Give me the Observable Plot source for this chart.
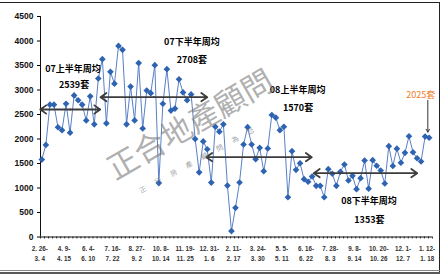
<!DOCTYPE html>
<html><head><meta charset="utf-8">
<script src="https://cdn.jsdelivr.net/npm/d3@7"></script>
<script src="https://cdn.jsdelivr.net/npm/@observablehq/plot@0.6"></script>
<style>
body{margin:0;background:#fff}
#chart{position:relative;width:445px;height:275px;overflow:hidden}
</style>
</head><body><div id="chart"></div>
<script>
// weekly transaction volume (套), 2007-02-26 .. 2009-01-18
const values = [1580,1880,2700,2700,2240,2180,2720,2130,2890,2790,
2700,2380,2870,2300,3235,3630,2320,3370,3130,3900,
3820,2300,3070,2380,3550,2215,2990,2935,3507,1100,
2720,3425,2580,2620,3220,2950,2790,2910,2000,1320,
1950,1790,1110,2250,2150,2300,1050,120,596,1112,
1888,2241,1888,1588,1820,1343,1806,2490,2435,2180,
2250,812,1751,1371,1506,1180,1127,1235,1045,1045,
812,1384,1290,1045,1331,1480,1153,1249,976,1200,
1561,986,1568,1455,1357,1092,1853,1449,1802,1516,
1718,2057,1729,1608,1541,2051,2025];
// tick labels (every 6th week)
const tickIndex = [0,6,12,18,24,30,36,42,48,54,60,66,72,78,84,90,96];
const tickLabels = ["2. 26-\n3. 4","4. 9-\n4. 15","6. 4-\n6. 10","7. 16-\n7. 22","8. 27-\n9. 2",
"10. 8-\n10. 14","11. 19-\n11. 25","12. 31-\n1. 6","2. 11-\n2. 17","3. 24-\n3. 30","5. 5-\n5. 11",
"6. 16-\n6. 22","7. 28-\n8. 3","9. 8-\n9. 14","10. 20-\n10. 26","12. 1-\n12. 7","1. 12-\n1. 18"];
const yTicks = [0,500,1000,1500,2000,2500,3000,3500,4000,4500];
// half-year average annotations
const avgTitles = ["07上半年周均","07下半年周均","08上半年周均","08下半年周均"];
const avgValues = ["2539套","2708套","1570套","1353套"];
const lastLabel = "2025套";
const watermark = "正合地產顧問";
const watermarkSmall = ["正","行","房","產","顧","問","為","您"];

const data = values.map((v,i)=>({i,v}));

// annotation placement (in scale units)
const arrows = [
  {x1:-0.39,x2:14.48,y:2602},
  {x1:14.55,x2:40.99,y:2853},
  {x1:40.75,x2:66.9,y:1629},
  {x1:67.41,x2:93.04,y:1302}
];
const arrowHalves = arrows.flatMap(a=>{const m=(a.x1+a.x2)/2;return [{x1:m,x2:a.x1,y:a.y},{x1:m,x2:a.x2,y:a.y}];});
const titlePos = [{x:7.73,y:3433},{x:37.2,y:3976},{x:63.4,y:3004},{x:81.1,y:725}];
const valuePos = [{x:7.98,y:3092},{x:37.2,y:3617},{x:63.5,y:2637},{x:81.2,y:337}];
const titles = titlePos.map((p,k)=>({...p,t:avgTitles[k]}));
const vals = valuePos.map((p,k)=>({...p,t:avgValues[k]}));

const xDomain = [-0.33, 96.83];
const minorTicks = d3.range(98).map(k => xDomain[0] + k*(xDomain[1]-xDomain[0])/97);

const chart = Plot.plot({
  width:445, height:275,
  marginLeft:40, marginRight:13, marginTop:16, marginBottom:38.5,
  style:{fontFamily:"'Liberation Sans', Arial, sans-serif", background:"#fff"},
  x:{type:"linear", domain:xDomain},
  y:{domain:[0,4500]},
  marks:[
    Plot.axisY({ticks:yTicks, tickSize:3, tickPadding:4, fontSize:8.5, fontWeight:"bold", fill:"#111", tickFormat:d=>String(d)}),
    Plot.axisX({ticks:minorTicks, tickSize:2, tickFormat:()=>"", stroke:"#333"}),
    Plot.axisX({ticks:tickIndex, tickSize:0, tickPadding:7, tickFormat:(d)=>tickLabels[tickIndex.indexOf(d)], fontSize:6.3, fontWeight:"bold", fill:"#333", lineHeight:1.6, dx:-2}),
    Plot.ruleY([0],{stroke:"#111"}),
    Plot.ruleX([xDomain[0]],{stroke:"#111"}),
    Plot.line(data,{x:"i",y:"v",stroke:"#5a80c6",strokeWidth:1}),
    Plot.dot(data,{x:"i",y:"v",symbol:"diamond2",r:3,fill:"#2d63b1",stroke:"none"}),
    Plot.arrow(arrowHalves,{x1:"x1",x2:"x2",y1:"y",y2:"y",bend:0,stroke:"#3c3c3c",strokeWidth:1.8,headLength:6,headAngle:70}),
    Plot.text(titles,{x:"x",y:"y",text:"t",fontSize:9,fontWeight:"bold",fill:"#000",fontFamily:"'Noto Sans CJK SC', sans-serif"}),
    Plot.text(vals,{x:"x",y:"y",text:"t",fontSize:9,fontWeight:"bold",fill:"#000",fontFamily:"'Noto Sans CJK SC', sans-serif"}),
    Plot.arrow([{x:95.67,y1:2786,y2:2140}],{x1:"x",x2:"x",y1:"y1",y2:"y2",bend:0,stroke:"#333",strokeWidth:1,headLength:5,headAngle:60}),
    Plot.text([{x:93.9,y:2888,t:lastLabel}],{x:"x",y:"y",text:"t",fontSize:9,fill:"#f07c2a",fontFamily:"'Noto Sans CJK SC', sans-serif"}),
    Plot.text([{x:36.9,y:2276,t:watermark}],{x:"x",y:"y",text:"t",rotate:-30,fontSize:31,fill:"#7a7a7a",fillOpacity:0.6,fontFamily:"'Noto Sans CJK TC', sans-serif"}),
    Plot.text([{x:38.4,y:1560,t:watermarkSmall.join("\u3000\u2002")}],{x:"x",y:"y",text:"t",rotate:-28.5,fontSize:7,fill:"#7a7a7a",fillOpacity:0.7,fontFamily:"'Noto Sans CJK TC', sans-serif"})
  ]
});

const svg = d3.select(chart);
// outer frame lines
svg.append("line").attr("x1",0).attr("x2",440).attr("y1",2.5).attr("y2",2.5).attr("stroke","#222");
svg.append("line").attr("x1",439.5).attr("x2",439.5).attr("y1",2.5).attr("y2",272).attr("stroke","#222");
svg.append("line").attr("x1",0).attr("x2",440).attr("y1",270.5).attr("y2",270.5).attr("stroke","#888");
svg.append("line").attr("x1",0).attr("x2",440).attr("y1",273).attr("y2",273).attr("stroke","#222").attr("stroke-width",1.5);

document.getElementById("chart").appendChild(chart);
</script>
</body></html>
